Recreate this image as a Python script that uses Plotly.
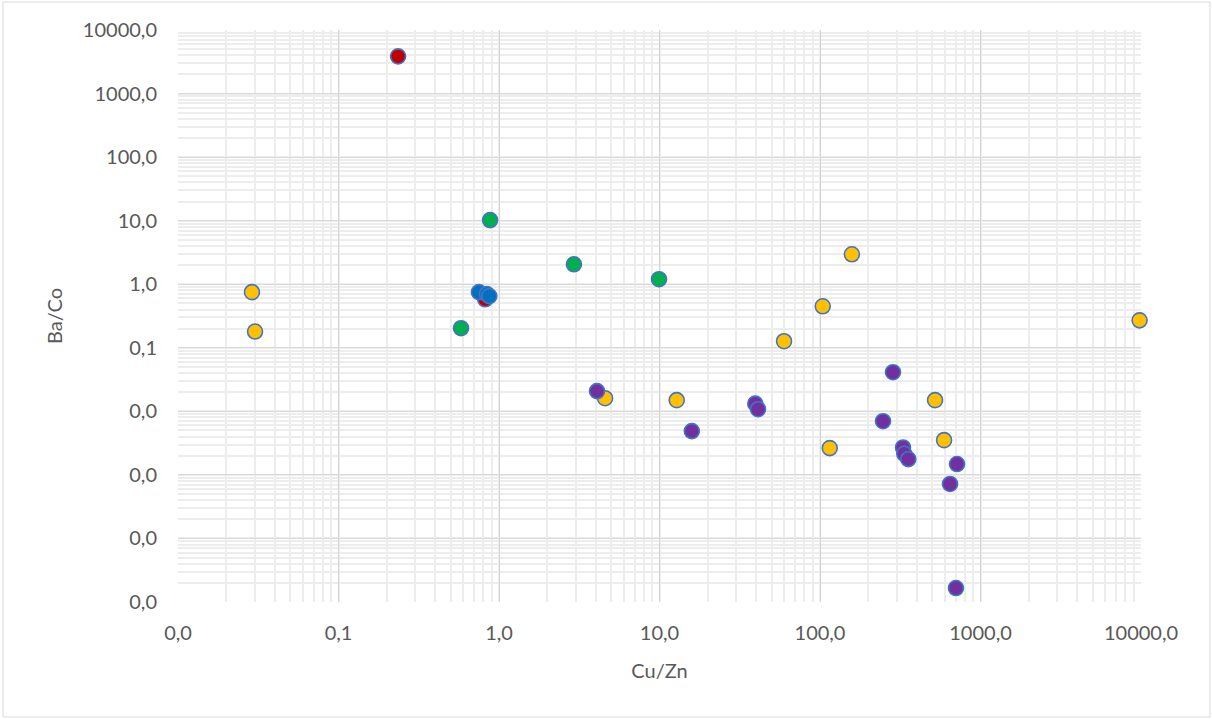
import plotly.graph_objects as go

# Series data (Cu/Zn, Ba/Co)
red_x = [0.235, 0.82]
red_y = [3850, 0.58]
yellow_x = [0.0289, 0.0302, 158, 104, 59.7, 9800, 4.58, 12.8, 115, 521, 593]
yellow_y = [0.75, 0.18, 2.96, 0.45, 0.127, 0.27, 0.0161, 0.015, 0.00264, 0.015, 0.00352]
green_x = [0.88, 2.93, 9.93, 0.58]
green_y = [10.2, 2.06, 1.2, 0.203]
blue_x = [0.75, 0.84, 0.87]
blue_y = [0.75, 0.70, 0.65]
purple_x = [4.08, 15.9, 39.5, 41.1, 285, 247, 329, 335, 355, 714, 646, 703]
purple_y = [0.0208, 0.00489, 0.0132, 0.0108, 0.0413, 0.0070, 0.0027, 0.00215, 0.00177, 0.00148, 0.00072, 0.0000166]

x_tickvals = [0.01, 0.1, 1, 10, 100, 1000, 10000]
x_ticktext = ["0,0", "0,1", "1,0", "10,0", "100,0", "1000,0", "10000,0"]
y_tickvals = [0.00001, 0.0001, 0.001, 0.01, 0.1, 1, 10, 100, 1000, 10000]
y_ticktext = ["0,0", "0,0", "0,0", "0,0", "0,1", "1,0", "10,0", "100,0", "1000,0", "10000,0"]

series = [
    (red_x, red_y, "#C00000"),
    (yellow_x, yellow_y, "#FFC000"),
    (green_x, green_y, "#00B050"),
    (blue_x, blue_y, "#0070C0"),
    (purple_x, purple_y, "#7030A0"),
]

fig = go.Figure()
for xs, ys, col in series:
    fig.add_trace(go.Scatter(
        x=xs, y=ys, mode="markers",
        marker=dict(size=15, color=col, line=dict(color="#4472C4", width=1.6)),
        showlegend=False, cliponaxis=False,
    ))

font = dict(family="Lato, 'Open Sans', sans-serif", size=20, color="#595959")

fig.update_xaxes(
    type="log", range=[-2, 4],
    tickvals=x_tickvals, ticktext=x_ticktext,
    showgrid=True, gridcolor="#D4D4D4", gridwidth=1.3,
    minor=dict(showgrid=True, gridcolor="#EDEDED", gridwidth=1.5, dtick="D1"),
    zeroline=False, showline=False, ticks="",
    tickfont=font, ticklabelstandoff=17,
    title=dict(text="Cu/Zn", font=font, standoff=20),
)
fig.update_yaxes(
    type="log", range=[-5, 4],
    tickvals=y_tickvals, ticktext=y_ticktext,
    showgrid=True, gridcolor="#D9D9D9", gridwidth=1.3,
    minor=dict(showgrid=True, gridcolor="#EDEDED", gridwidth=1.5, dtick="D1"),
    zeroline=False, showline=False, ticks="",
    tickfont=font, ticklabelstandoff=20,
    title=dict(text="Ba/Co", font=font, standoff=14),
)

fig.update_layout(
    width=1212, height=719,
    margin=dict(l=178, r=71, t=30, b=117),
    paper_bgcolor="white", plot_bgcolor="white",
    shapes=[dict(type="rect", xref="paper", yref="paper",
                 x0=-175/963, x1=1+69/963, y0=-115/572, y1=1+28/572,
                 line=dict(color="#D9D9D9", width=1), layer="below")],
)

fig.write_html("out.html")
